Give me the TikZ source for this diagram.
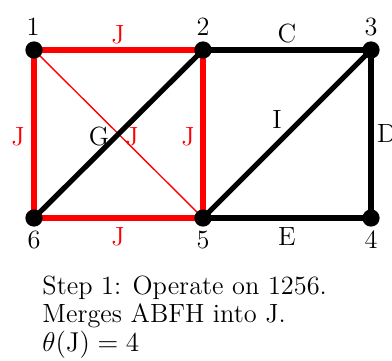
\documentclass[tikz,border=0pt]{standalone}
\begin{document}
\begin{tikzpicture}[x=0.4405pt,y=-0.4405pt,
  every node/.style={font=\fontsize{11.6}{12.6}\selectfont},
  vtx/.style={circle,fill=black,inner sep=0pt,minimum size=7.6pt},
  thickedge/.style={line width=2.3pt},
  redthick/.style={line width=2.3pt,red},
  redthin/.style={line width=0.6pt,red},
  lbl/.style={inner sep=0pt},
  rlbl/.style={inner sep=0pt,text=red}]
\useasboundingbox (0,0) rectangle (392,360);
\coordinate (p1) at (34,50);
\coordinate (p2) at (203,50);
\coordinate (p3) at (371,50);
\coordinate (p4) at (371,218);
\coordinate (p5) at (203,218);
\coordinate (p6) at (34,218);
% thin red diagonal
\draw[redthin] (p1) -- (p5);
% red thick edges
\draw[redthick] (p1) -- (p2);
\draw[redthick] (p2) -- (p5);
\draw[redthick] (p5) -- (p6);
\draw[redthick] (p6) -- (p1);
% black edges
\draw[thickedge] (p6) -- (p2);
\draw[thickedge] (p2) -- (p3);
\draw[thickedge] (p3) -- (p4);
\draw[thickedge] (p4) -- (p5);
\draw[thickedge] (p5) -- (p3);
% vertices
\node[vtx] (v1) at (p1) {};
\node[vtx] (v2) at (p2) {};
\node[vtx] (v3) at (p3) {};
\node[vtx] (v4) at (p4) {};
\node[vtx] (v5) at (p5) {};
\node[vtx] (v6) at (p6) {};
% vertex labels
\node[lbl] (n1) at (33,27) {1};
\node[lbl] (n2) at (203,27) {2};
\node[lbl] (n3) at (371,27) {3};
\node[lbl] (n4) at (371,240) {4};
\node[lbl] (n5) at (203,240) {5};
\node[lbl] (n6) at (34,240) {6};
% edge labels
\node[rlbl] (jt) at (118,35) {J};
\node[rlbl] (jb) at (118,237) {J};
\node[rlbl] (jl) at (18,137) {J};
\node[rlbl] (jr) at (188,137) {J};
\node[rlbl] (jc) at (132,137) {J};
\node[lbl] (g) at (99,137) {G};
\node[lbl] (c) at (287,34) {C};
\node[lbl] (e) at (287,237) {E};
\node[lbl] (i) at (277,120) {I};
\node[lbl] (d) at (387,134) {D};
% caption
\node[lbl,anchor=north west,align=left] (cap) at (42,275)
  {Step 1: Operate on 1256.\\Merges ABFH into J.\\$\theta(\mathrm{J}) = 4$};
\end{tikzpicture}
\end{document}
